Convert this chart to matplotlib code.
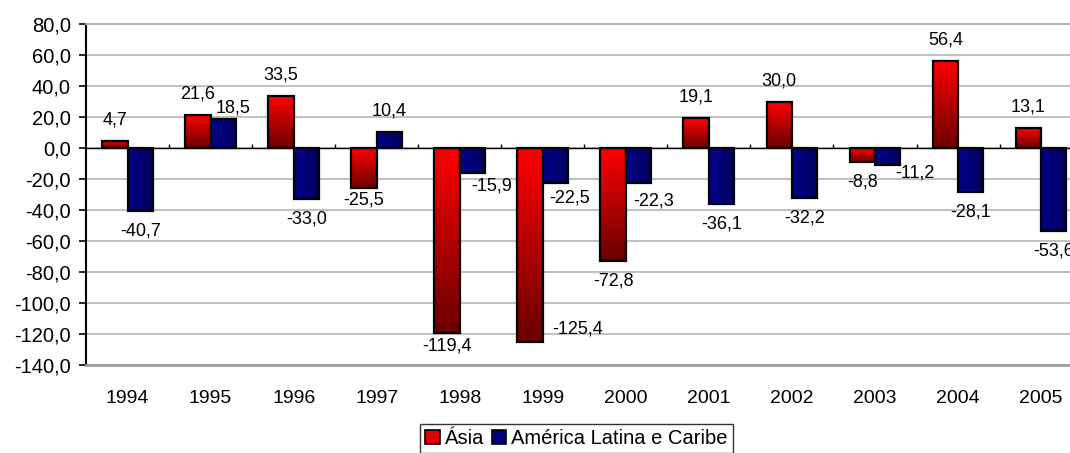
import numpy as np
import matplotlib
matplotlib.use("Agg")
import matplotlib.pyplot as plt
from matplotlib.patches import Patch

plt.rcParams['font.family'] = ['Liberation Sans', 'DejaVu Sans']

# Data
years = ['1994', '1995', '1996', '1997', '1998', '1999',
         '2000', '2001', '2002', '2003', '2004', '2005']
asia = [4.7, 21.6, 33.5, -25.5, -119.4, -125.4, -72.8, 19.1, 30.0, -8.8, 56.4, 13.1]
latam = [-40.7, 18.5, -33.0, 10.4, -15.9, -22.5, -22.3, -36.1, -32.2, -11.2, -28.1, -53.6]
series_names = ['Ásia', 'América Latina e Caribe']

# Label placement tweaks (pixels, x right / y up) where labels sit off the bar end
asia_label_shift = {3: (0, -12), 4: (0, -13), 5: (48, 13)}
latam_label_shift = {1: (10, 11), 4: (19, -13), 5: (14, -15), 6: (15, -18), 9: (27, -8)}

W, H = 1070, 453
fig = plt.figure(figsize=(W / 100, H / 100), dpi=100)
ax = fig.add_axes([86 / W, 1 - 365 / H, 996.6 / W, (365 - 24) / H])

x = np.arange(len(years))
bw = 0.306

ax.set_axisbelow(True)
ax.yaxis.grid(True, color='#c0c0c0', lw=1.4, zorder=0)

bars_a = ax.bar(x - bw / 2, asia, bw, facecolor='none', edgecolor='black', lw=1.6, zorder=3)
bars_l = ax.bar(x + bw / 2, latam, bw, facecolor='none', edgecolor='black', lw=1.6, zorder=3)

# Gradient fills: red fades top→bottom, navy fades left→right
t = np.linspace(0, 1, 256)
red_grad = np.zeros((256, 1, 3))
red_grad[:, 0, 0] = (255 - 150 * t) / 255
navy_grad = np.zeros((1, 256, 3))
navy_grad[0, :, 2] = (140 - 50 * t) / 255

for bars, grad in ((bars_a, red_grad), (bars_l, navy_grad)):
    for b in bars:
        x0, y0 = b.get_x(), b.get_y()
        x1, y1 = x0 + b.get_width(), y0 + b.get_height()
        im = ax.imshow(grad, extent=(x0, x1, min(y0, y1), max(y0, y1)),
                       origin='upper', aspect='auto', zorder=2.5,
                       interpolation='bilinear')
        im.set_clip_path(b)

ax.set_xlim(-0.5, len(years) - 0.5)
ax.set_ylim(-140, 80)
ax.set_yticks(np.arange(-140, 81, 20))
ax.set_yticklabels([f"{v:.1f}".replace('.', ',') for v in np.arange(-140, 81, 20)])

# zero line with category separators
ax.axhline(0, color='black', lw=1.0, zorder=2.8)
ax.vlines(np.arange(0.5, len(years) - 0.5, 1), 0, 2.6, color='black', lw=1.0, zorder=2.8)

ax.set_xticks(x)
ax.set_xticklabels(years)
ax.tick_params(axis='x', length=0, pad=18, labelsize=14)
ax.tick_params(axis='y', length=5, width=1.2, pad=6, labelsize=14.5, direction='out')

ax.spines['right'].set_visible(False)
ax.spines['left'].set_color('black')
ax.spines['left'].set_linewidth(1.5)
ax.spines['top'].set_color('#b0b0b0')
ax.spines['top'].set_linewidth(1.4)
ax.spines['bottom'].set_color('#a0a0a0')
ax.spines['bottom'].set_linewidth(2.0)


def fmt(v):
    return f"{v:.1f}".replace('.', ',')


for bars, vals, shifts in ((bars_a, asia, asia_label_shift), (bars_l, latam, latam_label_shift)):
    for i, (b, v) in enumerate(zip(bars, vals)):
        cx = b.get_x() + b.get_width() / 2
        dx, dy = shifts.get(i, (0, 21 if v >= 0 else -20))
        ax.annotate(fmt(v), xy=(cx, v), xytext=(dx, dy), textcoords='offset pixels',
                    ha='center', va='center', fontsize=13, annotation_clip=False,
                    zorder=4)

handles = [Patch(facecolor='#e00000', edgecolor='black', lw=1.2),
           Patch(facecolor='#000080', edgecolor='black', lw=1.2)]
leg = fig.legend(handles, series_names, loc='upper center',
                 bbox_to_anchor=(576.5 / W, 1 - 424 / H), ncol=2, frameon=True,
                 fancybox=False, edgecolor='black', fontsize=14.5,
                 handlelength=0.7, handleheight=0.7, handletextpad=0.25,
                 columnspacing=0.4, borderpad=0.25, borderaxespad=0)
leg.get_frame().set_linewidth(1.0)

fig.savefig('out.png', dpi=100)
